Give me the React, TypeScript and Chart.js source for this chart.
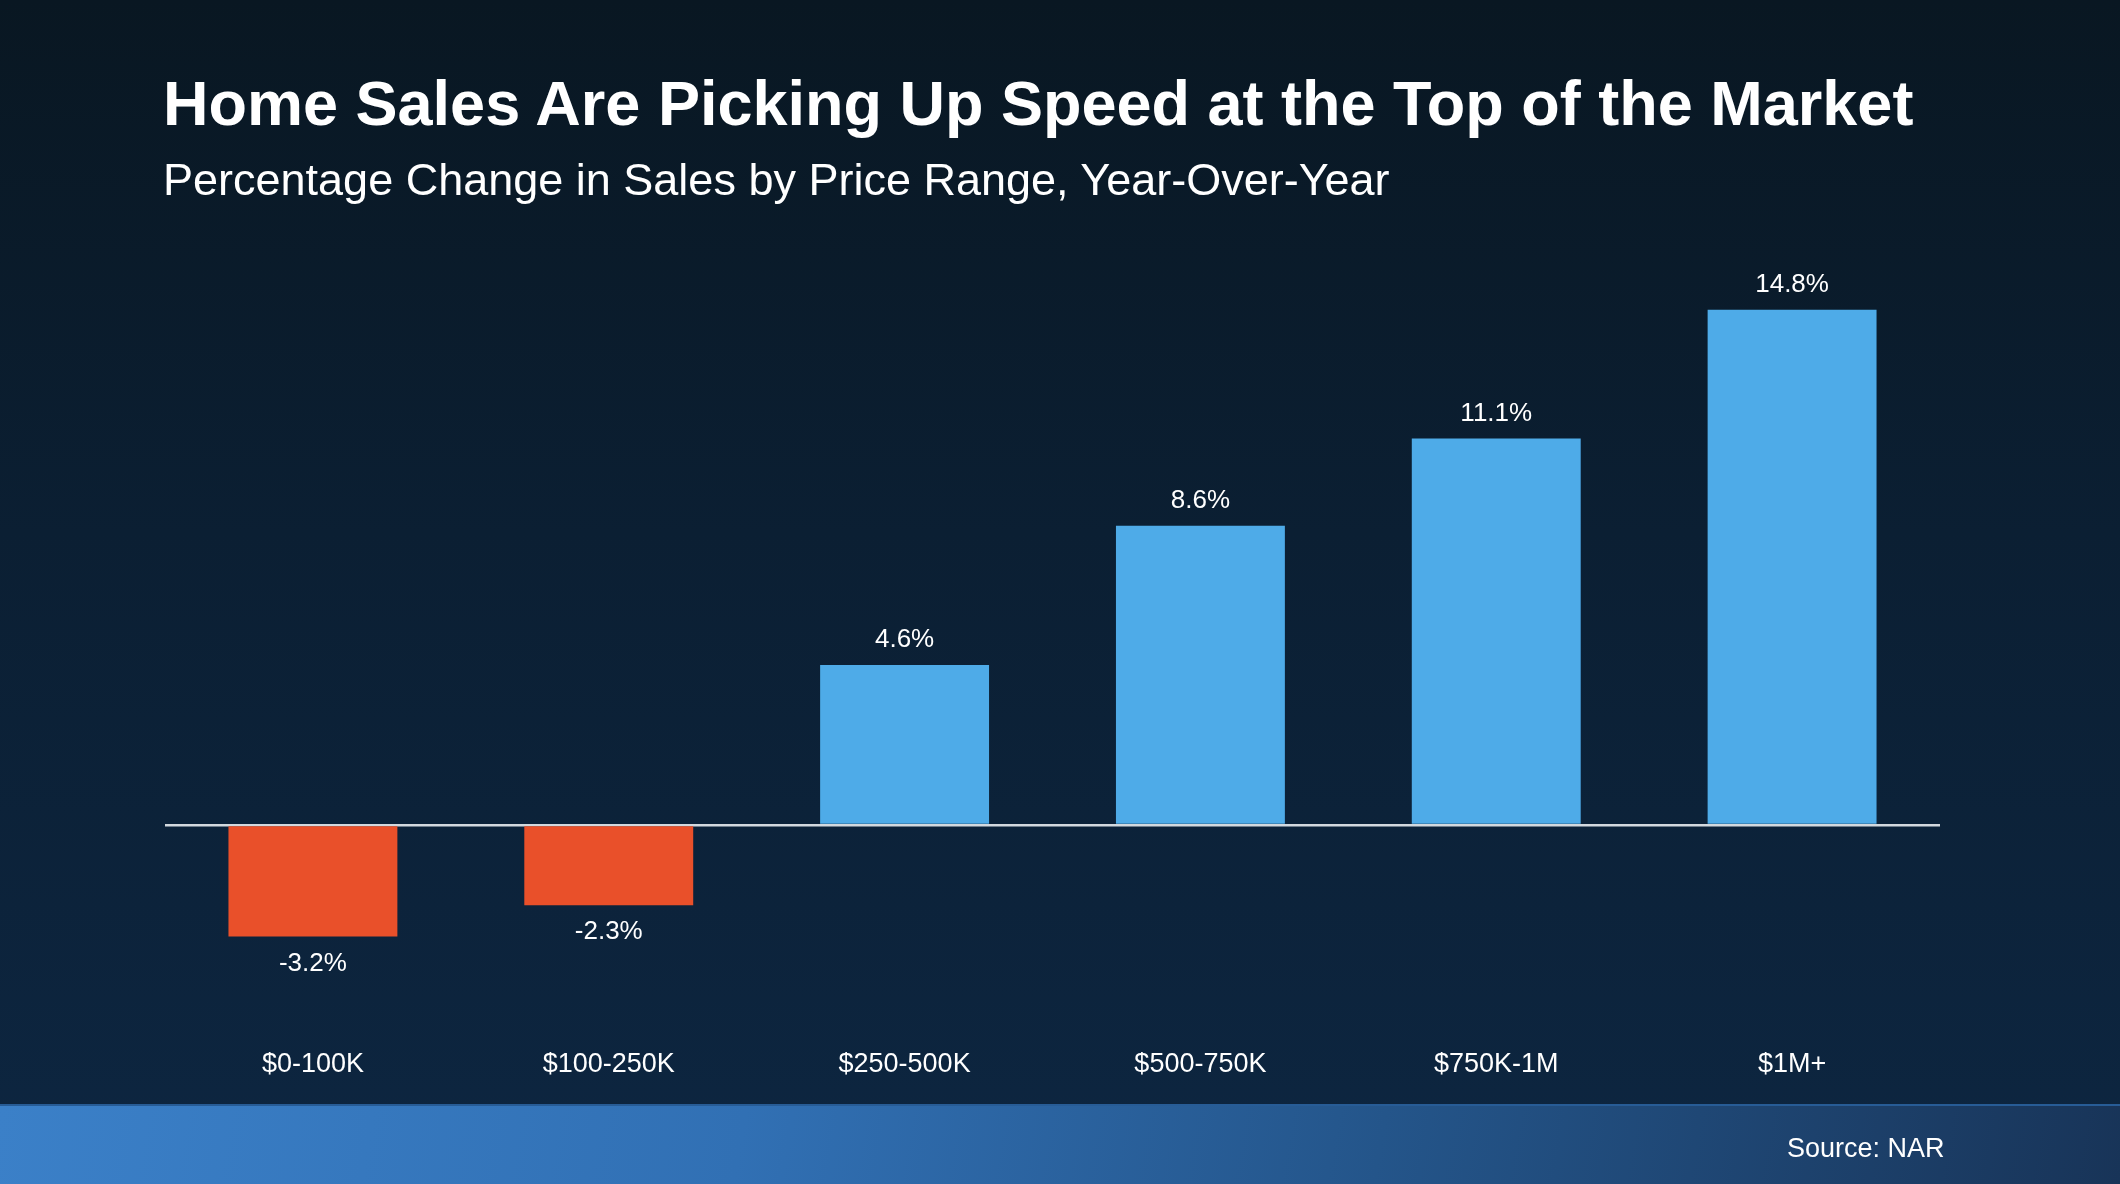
import React, { useEffect, useRef } from "react";
import { Chart, registerables } from "chart.js";

Chart.register(...registerables);

const titleText = "Home Sales Are Picking Up Speed at the Top of the Market";
const subtitleText = "Percentage Change in Sales by Price Range, Year-Over-Year";
const sourceText = "Source: NAR";

const categories = ["$0-100K", "$100-250K", "$250-500K", "$500-750K", "$750K-1M", "$1M+"];
const salesChange = [-3.2, -2.3, 4.6, 8.6, 11.1, 14.8];
const valueLabels = ["-3.2%", "-2.3%", "4.6%", "8.6%", "11.1%", "14.8%"];

const FONT = "'Liberation Sans', Arial, Helvetica, sans-serif";
const BLUE = "#4eabe8";
const ORANGE = "#e9502a";

const valueLabelPlugin = {
  id: "valueLabels",
  afterDatasetsDraw(chart: any) {
    const ctx = chart.ctx;
    const meta = chart.getDatasetMeta(0);
    ctx.save();
    ctx.font = `26px ${FONT}`;
    ctx.fillStyle = "#ffffff";
    ctx.textAlign = "center";
    ctx.textBaseline = "middle";
    meta.data.forEach((el: any, i: number) => {
      const p = el.getProps(["x", "y"], true);
      const v = salesChange[i];
      ctx.fillText(valueLabels[i], p.x, v >= 0 ? p.y - 25 : p.y + 27);
    });
    ctx.restore();
  },
};

export default function App() {
  const canvasRef = useRef<HTMLCanvasElement | null>(null);

  useEffect(() => {
    document.body.style.margin = "0";
    const canvas = canvasRef.current;
    if (!canvas) return;
    const chart = new Chart(canvas, {
      type: "bar",
      data: {
        labels: categories,
        datasets: [
          {
            data: salesChange,
            backgroundColor: salesChange.map((v) => (v >= 0 ? BLUE : ORANGE)),
            borderWidth: 0,
            categoryPercentage: 1,
            barPercentage: 0.571,
          },
        ],
      },
      options: {
        responsive: false,
        maintainAspectRatio: false,
        animation: false,
        devicePixelRatio: 1,
        layout: { padding: { left: 165, right: 180, top: 268, bottom: 79 } },
        plugins: {
          legend: { display: false },
          tooltip: { enabled: false },
          title: { display: false },
        },
        scales: {
          x: {
            grid: { display: false },
            border: { display: false },
            ticks: {
              color: "#ffffff",
              font: { family: FONT, size: 27 },
              padding: 6,
              maxRotation: 0,
            },
            afterFit: (scale: any) => {
              scale.height = 71;
            },
          },
          y: {
            min: -6,
            max: 16,
            z: 1,
            ticks: { display: false, stepSize: 2 },
            border: { display: false },
            grid: {
              drawTicks: false,
              lineWidth: 2.5,
              color: (c: any) => (c.tick && c.tick.value === 0 ? "#d3d9df" : "rgba(0,0,0,0)"),
            },
            afterFit: (scale: any) => {
              scale.width = 0;
            },
          },
        },
      },
      plugins: [valueLabelPlugin],
    });
    return () => chart.destroy();
  }, []);

  return (
    <div
      style={{
        position: "absolute",
        left: 0,
        top: 0,
        width: 2120,
        height: 1184,
        overflow: "hidden",
        background: "linear-gradient(180deg, #091722 0%, #0b1f33 45%, #0d2641 100%)",
        fontFamily: FONT,
      }}
    >
      <div
        style={{
          position: "absolute",
          left: 0,
          top: 1104,
          width: 2120,
          height: 80,
          background: "linear-gradient(100deg, #3b80c8 0%, #3170b4 35%, #24558a 65%, #183458 100%)",
          borderTop: "2px solid #275c96",
          boxSizing: "border-box",
        }}
      />
      <canvas
        ref={canvasRef}
        width={2120}
        height={1184}
        style={{ position: "absolute", left: 0, top: 0, width: 2120, height: 1184 }}
      />
      <div
        style={{
          position: "absolute",
          left: 163,
          top: 72,
          fontSize: 63,
          lineHeight: 1,
          fontWeight: 700,
          color: "#ffffff",
          whiteSpace: "nowrap",
        }}
      >
        {titleText}
      </div>
      <div
        style={{
          position: "absolute",
          left: 163,
          top: 157,
          fontSize: 45,
          lineHeight: 1,
          color: "#ffffff",
          whiteSpace: "nowrap",
        }}
      >
        {subtitleText}
      </div>
      <div
        style={{
          position: "absolute",
          left: 1787,
          top: 1135,
          fontSize: 27,
          lineHeight: 1,
          color: "#ffffff",
          whiteSpace: "nowrap",
        }}
      >
        {sourceText}
      </div>
    </div>
  );
}
